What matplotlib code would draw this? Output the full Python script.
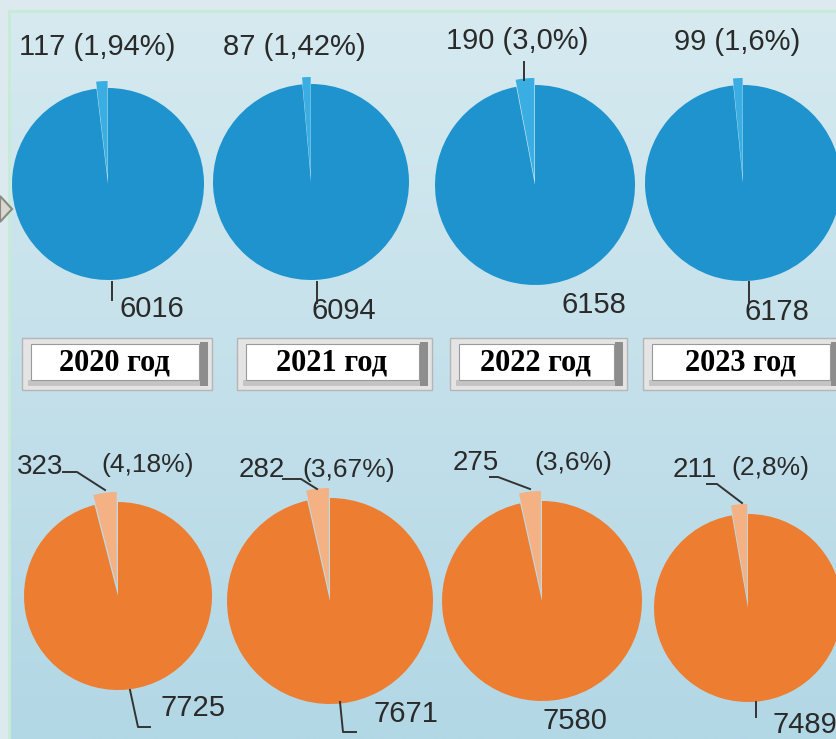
import numpy as np
import matplotlib.pyplot as plt
from matplotlib.patches import Rectangle, Polygon

# data
years = ['2020 год', '2021 год', '2022 год', '2023 год']
top_small = [117, 87, 190, 99]
top_big = [6016, 6094, 6158, 6178]
top_pct = ['1,94%', '1,42%', '3,0%', '1,6%']
bottom_small = [323, 282, 275, 211]
bottom_big = [7725, 7671, 7580, 7489]
bottom_pct = ['4,18%', '3,67%', '3,6%', '2,8%']

W, H = 837, 739


def Y(y):
    # pixel row (from top) -> data y
    return H - y


fig = plt.figure(figsize=(W / 100, H / 100), dpi=100)
fig.patch.set_facecolor('#dce9ef')
ax = fig.add_axes([0, 0, 1, 1])

# background gradient inside the frame
grad = np.linspace(0, 1, 256).reshape(-1, 1)
c_top = np.array([0xd6, 0xea, 0xf0]) / 255
c_bot = np.array([0xb2, 0xd7, 0xe5]) / 255
img = c_top + (c_bot - c_top) * grad[..., None]
ax.imshow(img, extent=(9, W, 0, Y(11)), aspect='auto', zorder=0)
ax.plot([9, W], [Y(11), Y(11)], color='#c6ecd6', lw=2, zorder=1)
ax.plot([9, 9], [0, Y(11)], color='#c6ecd6', lw=2, zorder=1)
ax.add_patch(Polygon([(0, Y(196)), (12, Y(209)), (0, Y(222))], closed=True,
                     facecolor='#d8d8d0', edgecolor='#8a8a80', lw=1.5, zorder=1))

txt_col = '#2a2a2a'
sans = 'Liberation Sans'

# top row (blue)
top_pies = [(108, 184, 96), (311, 182, 98), (535, 185, 100), (743, 183, 98)]
for i, (cx, cy, r) in enumerate(top_pies):
    ax.pie([top_small[i], top_big[i]], colors=['#3aaee2', '#1f93ce'],
           startangle=90, counterclock=True, center=(cx, Y(cy)), radius=r,
           explode=(7, 0), wedgeprops=dict(linewidth=0))

top_small_pos = [(97, 47), (294, 47), (517, 41), (737, 42)]
top_big_pos = [(152, 309), (344, 311), (594, 305), (777, 312)]
for i in range(4):
    ax.text(top_small_pos[i][0], Y(top_small_pos[i][1]),
            f'{top_small[i]} ({top_pct[i]})', ha='center', va='center',
            fontsize=21, family=sans, color=txt_col)
    ax.text(top_big_pos[i][0], Y(top_big_pos[i][1]), str(top_big[i]),
            ha='center', va='center', fontsize=21, family=sans, color=txt_col)

top_leaders = [[(112, 282), (112, 300)], [(317, 282), (317, 303)],
               [(524, 62), (524, 80)], [(749, 282), (749, 302)]]
for pts in top_leaders:
    xs, ys = zip(*pts)
    ax.plot(xs, [Y(v) for v in ys], color='#333333', lw=1.4)

# year buttons
buttons = [(22, 338, 190, 52), (237, 338, 195, 52), (450, 338, 177, 52), (643, 338, 200, 52)]
for (bx, by, bw, bh), lab in zip(buttons, years):
    ax.add_patch(Rectangle((bx, Y(by + bh)), bw, bh, facecolor='#e4e4e4',
                           edgecolor='#b5b5b5', lw=1, zorder=2))
    ax.add_patch(Rectangle((bx + bw - 12, Y(by + bh - 4)), 8, bh - 8,
                           facecolor='#8d8d8d', lw=0, zorder=2))
    ax.add_patch(Rectangle((bx + 6, Y(by + bh - 4)), bw - 18, 6,
                           facecolor='#c4c4c4', lw=0, zorder=2))
    ax.add_patch(Rectangle((bx + 9, Y(by + bh - 10)), bw - 22, bh - 16,
                           facecolor='white', edgecolor='#9a9a9a', lw=0.8, zorder=3))
    ax.text(bx + bw / 2 - 3, Y(by + bh / 2 - 1), lab, ha='center', va='center',
            fontsize=22, family='Liberation Serif', weight='bold', color='black', zorder=4)

# bottom row (orange)
bottom_pies = [(118, 596, 94), (330, 601, 103), (542, 601, 100), (748, 608, 94)]
for i, (cx, cy, r) in enumerate(bottom_pies):
    ax.pie([bottom_small[i], bottom_big[i]], colors=['#f4b183', '#ed7d31'],
           startangle=90, counterclock=True, center=(cx, Y(cy)), radius=r,
           explode=(10, 0), wedgeprops=dict(linewidth=0))

bottom_num_pos = [(40, 467), (262, 470), (476, 463), (695, 470)]
bottom_pct_pos = [(148, 465), (349, 470), (573, 463), (770, 468)]
bottom_big_pos = [(193, 708), (406, 714), (575, 721), (805, 725)]
for i in range(4):
    ax.text(bottom_num_pos[i][0], Y(bottom_num_pos[i][1]), str(bottom_small[i]),
            ha='center', va='center', fontsize=20, family=sans, color=txt_col)
    ax.text(bottom_pct_pos[i][0], Y(bottom_pct_pos[i][1]), f'({bottom_pct[i]})',
            ha='center', va='center', fontsize=19, family=sans, color=txt_col)
    ax.text(bottom_big_pos[i][0], Y(bottom_big_pos[i][1]), str(bottom_big[i]),
            ha='center', va='center', fontsize=21, family=sans, color=txt_col)

bottom_leaders = [[(63, 472), (77, 472), (105, 490)],
                  [(283, 479), (301, 479), (317, 489)],
                  [(490, 477), (498, 477), (530, 489)],
                  [(707, 484), (717, 484), (742, 503)],
                  [(130, 690), (138, 727), (150, 727)],
                  [(340, 702), (343, 732), (356, 732)],
                  [(756, 702), (756, 717)]]
for pts in bottom_leaders:
    xs, ys = zip(*pts)
    ax.plot(xs, [Y(v) for v in ys], color='#333333', lw=1.4)

ax.set_xlim(0, W)
ax.set_ylim(0, H)
ax.set_aspect('auto')
ax.axis('off')

plt.savefig('out.png', dpi=100)
